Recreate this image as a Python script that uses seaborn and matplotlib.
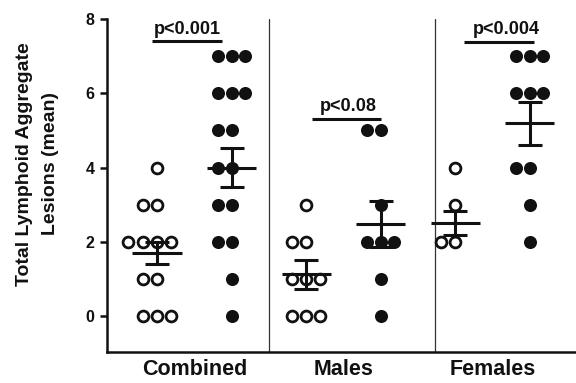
import numpy as np
import pandas as pd
import matplotlib
matplotlib.use("Agg")
import matplotlib.pyplot as plt
import seaborn as sns

# columns: control (open) and treated (filled) for each group
columns = ["Combined ctrl", "Combined trt", "Males ctrl", "Males trt",
           "Females ctrl", "Females trt"]
groups = ["Combined", "Males", "Females"]

combined_ctrl = [4, 3, 3, 2, 2, 2, 2, 1, 1, 0, 0, 0]
combined_trt = [7, 7, 7, 6, 6, 6, 5, 5, 4, 4, 3, 3, 2, 2, 1, 0]
males_ctrl = [3, 2, 2, 1, 1, 1, 0, 0, 0]
males_trt = [5, 5, 3, 2, 2, 2, 1, 0]
females_ctrl = [4, 3, 2, 2]
females_trt = [7, 7, 7, 6, 6, 6, 4, 4, 3, 2]

# mean and SEM
means = [1.69, 4.0, 1.12, 2.49, 2.51, 5.19]
sems = [0.30, 0.53, 0.39, 0.62, 0.33, 0.58]

p_labels = ["p<0.001", "p<0.08", "p<0.004"]

values = [combined_ctrl, combined_trt, males_ctrl, males_trt,
          females_ctrl, females_trt]
kinds = ["open", "filled"] * 3

rows = []
for col, vals, kind in zip(columns, values, kinds):
    for v in vals:
        rows.append({"column": col, "value": v, "kind": kind})
df = pd.DataFrame(rows)

sns.set_style("ticks")
plt.rcParams["font.family"] = ["Liberation Sans", "DejaVu Sans"]
plt.rcParams["font.weight"] = "bold"
ink = "#111111"

fig = plt.figure(figsize=(5.76, 3.83), dpi=100)
ax = fig.add_axes([0.186, 0.081, 0.814, 0.869])

sns.swarmplot(data=df[df["kind"] == "open"], x="column", y="value",
              order=columns, color="white", edgecolor=ink, linewidth=2.0,
              size=7.8, ax=ax, zorder=3)
sns.swarmplot(data=df[df["kind"] == "filled"], x="column", y="value",
              order=columns, color=ink, edgecolor=ink, linewidth=0,
              size=9.4, ax=ax, zorder=3)

xpos = np.arange(len(columns))
ax.hlines(means, xpos - 0.33, xpos + 0.33, color=ink, lw=2.2, zorder=5)
ax.errorbar(xpos, means, yerr=sems, fmt="none", ecolor=ink, elinewidth=2.2,
            capsize=8.5, capthick=2.2, zorder=5)

# separators between groups
for xs in [1.5, 3.73]:
    ax.axvline(xs, color="#333333", lw=0.9, zorder=1)

# significance bars
bars = [(-0.07, 0.87, 7.4, 0.40), (2.08, 3.0, 5.32, 2.56), (4.12, 5.05, 7.38, 4.68)]
for (x0, x1, y, xt), lab in zip(bars, p_labels):
    ax.plot([x0, x1], [y, y], color=ink, lw=2.2, solid_capstyle="butt")
    ax.text(xt, y + 0.1, lab, ha="center", va="bottom", fontsize=13,
            fontweight="bold", color=ink)

ax.set_xlim(-0.67, 5.62)
ax.set_ylim(-0.97, 8)
ax.set_yticks([0, 2, 4, 6, 8])
ax.set_xticks([0.5, 2.5, 4.5])
ax.set_xticklabels(groups)
ax.tick_params(axis="x", length=0, pad=5, labelsize=15.5, colors=ink)
ax.tick_params(axis="y", length=5, width=1.8, pad=4, labelsize=11.5, colors=ink)
for t in ax.get_xticklabels() + ax.get_yticklabels():
    t.set_fontweight("bold")

ax.set_xlabel("")
ax.set_ylabel("Total Lymphoid Aggregate\nLesions (mean)", fontsize=14,
              fontweight="bold", color=ink, multialignment="center",
              linespacing=1.65)
ax.yaxis.set_label_coords(-0.103, 0.565)

sns.despine(ax=ax)
for s in ["left", "bottom"]:
    ax.spines[s].set_linewidth(1.8)
    ax.spines[s].set_color(ink)

fig.savefig("out.png", dpi=100)
